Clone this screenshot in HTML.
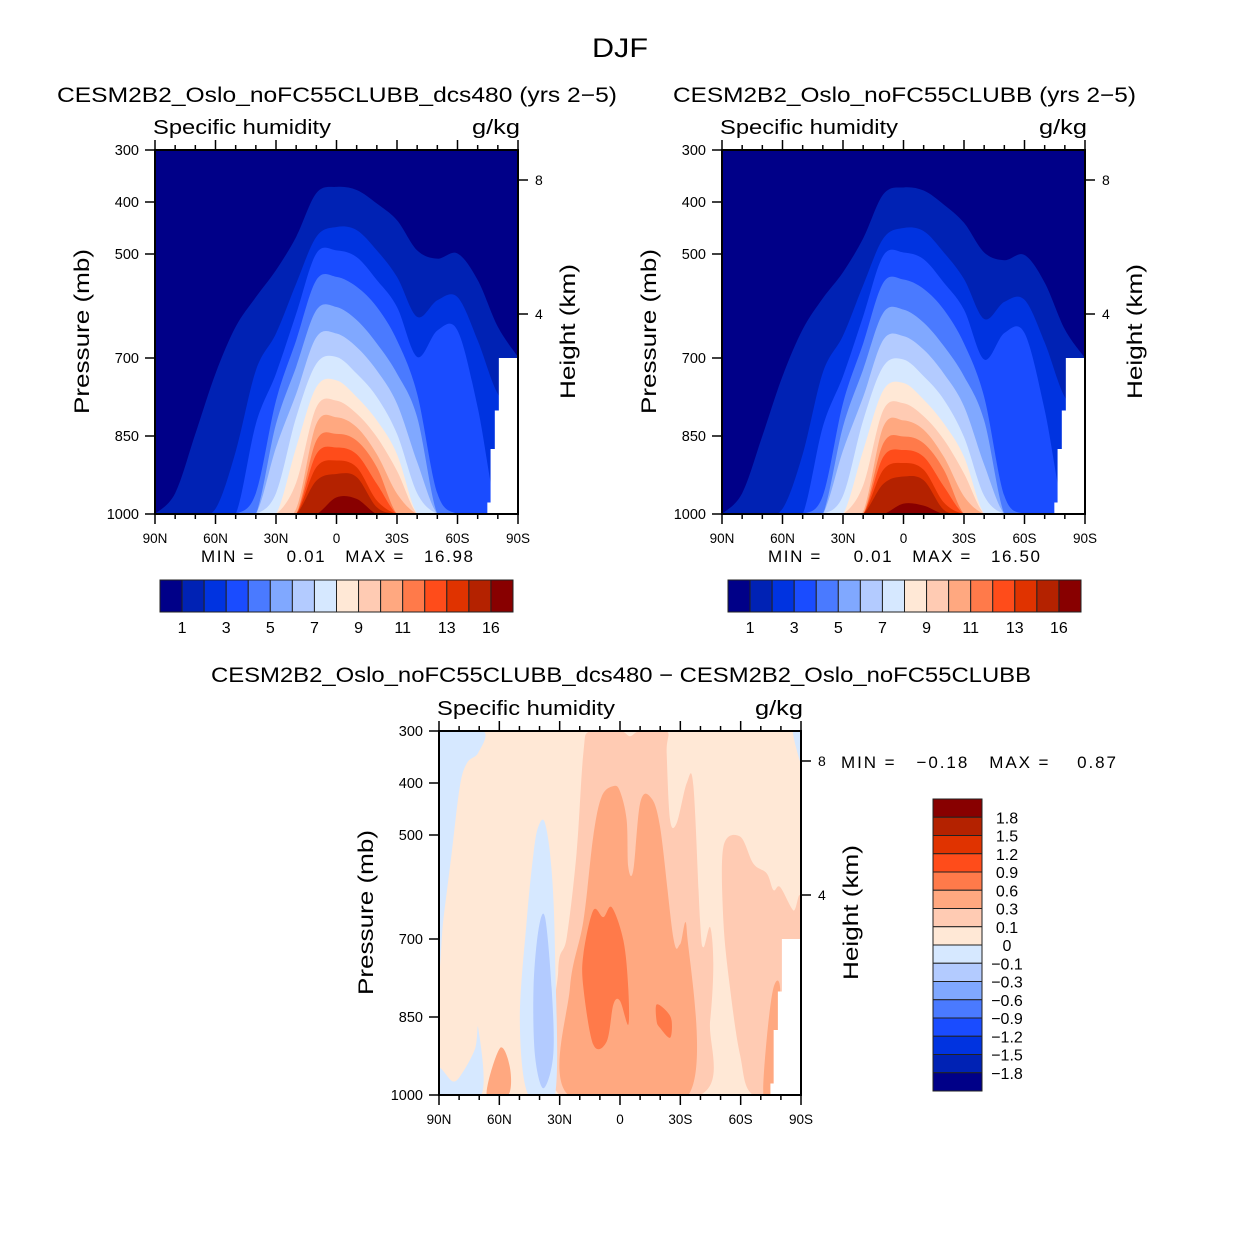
<!DOCTYPE html>
<html><head><meta charset="utf-8"><style>
html,body{margin:0;padding:0;background:#fff;}
svg{display:block;font-family:"Liberation Sans",sans-serif;}
text{white-space:pre;}
</style></head><body>
<svg id="chart" width="1242" height="1244" viewBox="0 0 1242 1244" xmlns="http://www.w3.org/2000/svg">
<rect width="1242" height="1244" fill="#fff"/>
<text x="592" y="57" font-size="27" textLength="56" lengthAdjust="spacingAndGlyphs" fill="#000">DJF</text>
<text x="57" y="102" font-size="21" textLength="560" lengthAdjust="spacingAndGlyphs">CESM2B2_Oslo_noFC55CLUBB_dcs480 (yrs 2−5)</text>
<text x="673" y="102" font-size="21" textLength="463" lengthAdjust="spacingAndGlyphs">CESM2B2_Oslo_noFC55CLUBB (yrs 2−5)</text>
<text x="211" y="682" font-size="21" textLength="820" lengthAdjust="spacingAndGlyphs">CESM2B2_Oslo_noFC55CLUBB_dcs480 − CESM2B2_Oslo_noFC55CLUBB</text>
<g id="layer"></g>
</svg>
<script>
// ---- data ----
const lats = [90,80,70,60,50,40,30,20,10,0,-10,-20,-30,-40,-50,-60,-70,-80,-90];
const colors = ["#000088","#0022b4","#0033e0","#1a4cff","#4a7aff","#80a8ff","#b3cbff","#d6e8ff","#ffe8d6","#ffcbb3","#ffa880","#ff7a4a","#ff4c1a","#e03300","#b42200","#880000"];
const barLabels = ["1","3","5","7","9","11","13","16"];
// top boundary pressure (mb) of each filled level, panel A
const levA1  = [1000,960,846,730,640,583,531,467,383,371,377,403,435,493,509,499,550,640,698];
const levA2  = [1000,1000,1000,990,880,724,653,557,467,448,454,493,544,621,589,583,666,769,800];
const levA3  = [1000,1000,1000,1000,1000,827,730,615,499,493,506,550,602,698,647,647,795,1000,1000];
const levA4  = [1000,1000,1000,1000,1000,960,782,666,550,544,563,602,666,769,960,1000,1000,1000,1000];
const levA5  = [1000,1000,1000,1000,1000,1000,827,717,608,602,627,672,730,814,1000,1000,1000,1000,1000];
const levA6  = [1000,1000,1000,1000,1000,1000,872,769,660,653,679,724,788,900,1000,1000,1000,1000,1000];
const levA7  = [1000,1000,1000,1000,1000,1000,960,814,711,698,730,775,846,960,1000,1000,1000,1000,1000];
const levA8  = [1000,1000,1000,1000,1000,1000,1000,872,756,743,775,820,885,1000,1000,1000,1000,1000,1000];
const levA9  = [1000,1000,1000,1000,1000,1000,1000,940,795,782,807,852,917,1000,1000,1000,1000,1000,1000];
const levA10 = [1000,1000,1000,1000,1000,1000,1000,990,827,814,833,885,961,1000,1000,1000,1000,1000,1000];
const levA11 = [1000,1000,1000,1000,1000,1000,1000,1000,859,846,859,910,1000,1000,1000,1000,1000,1000,1000];
const levA12 = [1000,1000,1000,1000,1000,1000,1000,1000,885,872,885,942,1000,1000,1000,1000,1000,1000,1000];
const levA13 = [1000,1000,1000,1000,1000,1000,1000,1000,910,897,910,974,1000,1000,1000,1000,1000,1000,1000];
const levA14 = [1000,1000,1000,1000,1000,1000,1000,1000,936,923,929,987,1000,1000,1000,1000,1000,1000,1000];
const levA15 = [1000,1000,1000,1000,1000,1000,1000,1000,1000,968,971,1000,1000,1000,1000,1000,1000,1000,1000];
// panel B
const levB1  = [1000,960,850,735,645,585,535,470,385,372,378,405,440,497,512,502,555,645,700];
const levB2  = [1000,1000,1000,990,885,728,657,560,470,450,456,497,548,625,592,588,670,775,805];
const levB3  = [1000,1000,1000,1000,1000,832,735,620,503,497,510,555,607,703,652,652,800,1000,1000];
const levB4  = [1000,1000,1000,1000,1000,965,787,672,555,549,567,607,672,775,965,1000,1000,1000,1000];
const levB5  = [1000,1000,1000,1000,1000,1000,832,722,613,607,632,677,735,820,1000,1000,1000,1000,1000];
const levB6  = [1000,1000,1000,1000,1000,1000,878,775,665,658,684,730,793,905,1000,1000,1000,1000,1000];
const levB7  = [1000,1000,1000,1000,1000,1000,965,820,716,703,735,780,852,965,1000,1000,1000,1000,1000];
const levB8  = [1000,1000,1000,1000,1000,1000,1000,878,762,748,780,826,890,1000,1000,1000,1000,1000,1000];
const levB9  = [1000,1000,1000,1000,1000,1000,1000,945,800,787,812,857,922,1000,1000,1000,1000,1000,1000];
const levB10 = [1000,1000,1000,1000,1000,1000,1000,995,832,820,838,890,966,1000,1000,1000,1000,1000,1000];
const levB11 = [1000,1000,1000,1000,1000,1000,1000,1000,864,851,864,915,1000,1000,1000,1000,1000,1000,1000];
const levB12 = [1000,1000,1000,1000,1000,1000,1000,1000,890,877,890,947,1000,1000,1000,1000,1000,1000,1000];
const levB13 = [1000,1000,1000,1000,1000,1000,1000,1000,915,902,915,978,1000,1000,1000,1000,1000,1000,1000];
const levB14 = [1000,1000,1000,1000,1000,1000,1000,1000,942,928,935,992,1000,1000,1000,1000,1000,1000,1000];
const levB15 = [1000,1000,1000,1000,1000,1000,1000,1000,1000,980,984,1000,1000,1000,1000,1000,1000,1000,1000];
// missing-data mask (lat, pressure)
const maskLat = [-80.5,-90,-90,-74.8,-74.8,-76.4,-76.4,-78.5,-78.5,-80.5];
const maskP   = [700,700,1000,1000,978,978,875,875,801,801];
// difference regions (lat, pressure polygons)
const dBlue1Lat = [90,68,70.5,76,79.6,83.7,87.9,90];
const dBlue1P   = [300,300,342,361,406,535,665,742];
const dBlue2Lat = [90,83,78,72,70.5,69,90];
const dBlue2P   = [948,974,955,910,871,1000,1000];
const dBlue3Lat = [-86,-90,-90,-88.7];
const dBlue3P   = [300,300,355,348];
const dBlue4Lat = [40.6,37.3,34,32.3,32.3,45.6,49.8,46.4,43];
const dBlue4P   = [484,477,568,729,1000,1000,858,665,535];
const dBlue5Lat = [37.3,34,33.2,38.1,42.3,43,40.6];
const dBlue5P   = [658,794,923,987,923,794,684];
const dPink1Lat = [14.9,0,-5,-10,-23.2,-23.2,-24.9,-28.2,-33.2,-36.5,-39.8,-41.5,-44.8,-46.4,-44.8,-39.8,29.9,30.7,26.5,21.6,18.2];
const dPink1P   = [300,300,310,300,300,342,471,477,400,406,665,716,677,748,858,1000,1000,761,697,535,342];
const dPink2Lat = [-51.4,-59.7,-66.3,-73,-76.3,-79.6,-86.2,-90,-90,-66.3,-59.7,-54.7,-51.4];
const dPink2P   = [523,503,555,574,606,600,645,639,1000,1000,923,794,665];
const dSalm1Lat = [13.3,9.1,3.3,0,-3.3,-4.1,-6.6,-10,-14.9,-19.9,-26.5,-29.9,-33.2,-34,25.7,24.9,18.2];
const dSalm1P   = [503,426,406,416,471,561,568,439,426,484,697,710,684,1000,1000,794,665];
const dSalm2Lat = [66.3,59.7,54.7,55.6];
const dSalm2P   = [1000,910,948,1000];
const dSalm3Lat = [-71.3,-73,-76.3,-79.6,-78.8,-75.5];
const dSalm3P   = [1000,890,794,794,923,1000];
const dOr1Lat = [18.2,13.3,8.3,4.1,-1.7,-4.1,-4.1,0,3.3,6.6,13.3,18.2];
const dOr1P   = [729,645,658,639,703,794,865,819,826,897,903,794];
const dOr2Lat = [-18.2,-23.2,-25.7,-24.9,-19.9,-18.2];
const dOr2P   = [826,839,858,890,871,858];
const diffLabels = ["1.8","1.5","1.2","0.9","0.6","0.3","0.1","0","−0.1","−0.3","−0.6","−0.9","−1.2","−1.5","−1.8"];
const diffColors = ["#880000","#b42200","#e03300","#ff4c1a","#ff7a4a","#ffa880","#ffcbb3","#ffe8d6","#d6e8ff","#b3cbff","#80a8ff","#4a7aff","#1a4cff","#0033e0","#0022b4","#000088"];

// ---- drawing ----
const NS = "http://www.w3.org/2000/svg";
const layer = document.getElementById('layer');
function mk(tag, attrs, parent){ const e=document.createElementNS(NS,tag); for(const k in attrs) e.setAttribute(k,attrs[k]); (parent||layer).appendChild(e); return e; }
function axes(x0,y0,w,h){
  return { x: lat => x0 + (90-lat)/180*w, y: p => y0 + (p-300)/700*h };
}
function smoothPath(pts){
  let d = "M"+pts[0][0]+","+pts[0][1];
  for(let i=0;i<pts.length-1;i++){
    const p0=pts[Math.max(0,i-1)], p1=pts[i], p2=pts[i+1], p3=pts[Math.min(pts.length-1,i+2)];
    const c1=[p1[0]+(p2[0]-p0[0])/6, p1[1]+(p2[1]-p0[1])/6];
    const c2=[p2[0]-(p3[0]-p1[0])/6, p2[1]-(p3[1]-p1[1])/6];
    d+=` C${c1[0]},${c1[1]} ${c2[0]},${c2[1]} ${p2[0]},${p2[1]}`;
  }
  return d;
}
function closedSmooth(pts){
  const n=pts.length; let d="M"+pts[0][0]+","+pts[0][1];
  for(let i=0;i<n;i++){
    const p0=pts[(i-1+n)%n],p1=pts[i],p2=pts[(i+1)%n],p3=pts[(i+2)%n];
    const c1=[p1[0]+(p2[0]-p0[0])/6, p1[1]+(p2[1]-p0[1])/6];
    const c2=[p2[0]-(p3[0]-p1[0])/6, p2[1]-(p3[1]-p1[1])/6];
    d+=` C${c1[0]},${c1[1]} ${c2[0]},${c2[1]} ${p2[0]},${p2[1]}`;
  }
  return d+"Z";
}
let clipId=0;
function frame(x0,y0,w,h,name){
  const ax=axes(x0,y0,w,h);
  const g=mk('g',{});
  
  
  mk('rect',{x:x0,y:y0,width:w,height:h,fill:'none',stroke:'#000','stroke-width':2},g);
  for(let lat=90;lat>=-90;lat-=10){
    const major = lat%30===0, X=ax.x(lat), L=major?10:5;
    mk('line',{x1:X,x2:X,y1:y0+h,y2:y0+h+L,stroke:'#000','stroke-width':1.5},g);
    mk('line',{x1:X,x2:X,y1:y0,y2:y0-L,stroke:'#000','stroke-width':1.5},g);
    if(major){
      const t=mk('text',{x:X,y:y0+h+29,'font-size':13.5,'text-anchor':'middle'},g);
      t.textContent = lat===0?'0':(Math.abs(lat)+(lat>0?'N':'S'));
      
      
    }
  }
  [300,400,500,700,850,1000].forEach(p=>{
    const Y=ax.y(p);
    mk('line',{x1:x0-10,x2:x0,y1:Y,y2:Y,stroke:'#000','stroke-width':1.5},g);
    const t=mk('text',{x:x0-16,y:Y+5,'font-size':14.5,'text-anchor':'end'},g);
    t.textContent=p;
    
    
  });
  [[8,30],[4,164]].forEach(([km,dy])=>{
    const Y=y0+dy;
    mk('line',{x1:x0+w,x2:x0+w+10,y1:Y,y2:Y,stroke:'#000','stroke-width':1.5},g);
    const t=mk('text',{x:x0+w+17,y:Y+5,'font-size':14},g);
    t.textContent=km;
    
    
  });
  const s=mk('text',{x:x0-2,y:y0-16,'font-size':20,textLength:178,lengthAdjust:'spacingAndGlyphs'},g); s.textContent='Specific humidity';
   
  const u=mk('text',{x:x0+w-46,y:y0-16,'font-size':20,textLength:48,lengthAdjust:'spacingAndGlyphs'},g); u.textContent='g/kg';
   
  const yl=mk('text',{x:-82,y:0,'font-size':21,textLength:165,lengthAdjust:'spacingAndGlyphs',transform:`translate(${x0-66},${y0+182}) rotate(-90)`},g);
  yl.textContent='Pressure (mb)';  
  const hl=mk('text',{x:-67,y:0,'font-size':21,textLength:135,lengthAdjust:'spacingAndGlyphs',transform:`translate(${x0+w+57},${y0+182}) rotate(-90)`},g);
  hl.textContent='Height (km)';  
  return ax;
}
function clipFor(x0,y0,w,h){
  const id='c'+(clipId++);
  const cp=mk('clipPath',{id});
  mk('rect',{x:x0,y:y0,width:w,height:h},cp);
  return `url(#${id})`;
}
function contourPanel(x0,y0,w,h,levels,name){
  const ax=axes(x0,y0,w,h);
  const g=mk('g',{'clip-path':clipFor(x0,y0,w,h)});
  
  
  mk('rect',{x:x0,y:y0,width:w,height:h,fill:colors[0]},g);
  levels.forEach((lev,k)=>{
    const pts=lats.map((la,i)=>[ax.x(la),ax.y(lev[i])]);
    const d=smoothPath(pts)+` L${ax.x(-90)},${ax.y(1000)+5} L${ax.x(90)},${ax.y(1000)+5}Z`;
    const p=mk('path',{d,fill:colors[k+1]},g);
    
    
  });
  const m=mk('polygon',{points:maskLat.map((la,i)=>ax.x(la)+','+ax.y(maskP[i])).join(' '),fill:'#fff'},g);
   
  frame(x0,y0,w,h,name);
}
function hbar(x0,y0,w,h,name){
  const g=mk('g',{});
  
  
  const bw=w/colors.length;
  colors.forEach((c,i)=>mk('rect',{x:x0+i*bw,y:y0,width:bw,height:h,fill:c,stroke:'#222','stroke-width':1},g));
  barLabels.forEach((l,i)=>{
    const t=mk('text',{x:x0+(2*i+1)*bw,y:y0+h+21,'font-size':16,'text-anchor':'middle'},g);
    t.textContent=l;
     
  });
}
const levA=[levA1,levA2,levA3,levA4,levA5,levA6,levA7,levA8,levA9,levA10,levA11,levA12,levA13,levA14,levA15];
const levB=[levB1,levB2,levB3,levB4,levB5,levB6,levB7,levB8,levB9,levB10,levB11,levB12,levB13,levB14,levB15];
contourPanel(155,150,363,364,levA,'left-panel');
contourPanel(722,150,363,364,levB,'right-panel');
hbar(160,580,353,32,'left-colorbar');
hbar(728,580,353,32,'right-colorbar');
function minmax(x,y,len,txt,name){ const t=mk('text',{x,y,'font-size':17,textLength:len,lengthAdjust:'spacing'}); t.textContent=txt;   }
minmax(201,562,272,'MIN =     0.01   MAX =   16.98','left-min-max');
minmax(768,562,272,'MIN =     0.01   MAX =   16.50','right-min-max');
minmax(841,768,275,'MIN =   −0.18   MAX =    0.87','diff-min-max');

// difference panel
(function(){
  const x0=439,y0=731,w=362,h=364, ax=axes(x0,y0,w,h);
  const g=mk('g',{'clip-path':clipFor(x0,y0,w,h)});
  
  
  mk('rect',{x:x0,y:y0,width:w,height:h,fill:'#ffe8d6'},g);
  const regs=[
    [dPink1Lat,dPink1P,'#ffcbb3','diff-region-pos-0.1'],
    [dPink2Lat,dPink2P,'#ffcbb3','diff-region-pos-0.1-south'],
    [dSalm1Lat,dSalm1P,'#ffa880','diff-region-pos-0.3'],
    [dSalm2Lat,dSalm2P,'#ffa880','diff-region-pos-0.3-north'],
    [dSalm3Lat,dSalm3P,'#ffa880','diff-region-pos-0.3-south'],
    [dOr1Lat,dOr1P,'#ff7a4a','diff-region-pos-0.6'],
    [dOr2Lat,dOr2P,'#ff7a4a','diff-region-pos-0.6-small'],
    [dBlue1Lat,dBlue1P,'#d6e8ff','diff-region-neg-arctic'],
    [dBlue2Lat,dBlue2P,'#d6e8ff','diff-region-neg-arctic-surface'],
    [dBlue3Lat,dBlue3P,'#d6e8ff','diff-region-neg-antarctic'],
    [dBlue4Lat,dBlue4P,'#d6e8ff','diff-region-neg-midlat'],
    [dBlue5Lat,dBlue5P,'#b3cbff','diff-region-neg-0.1']
  ];
  regs.forEach(([la,pp,c,n])=>{
    const pts=la.map((v,i)=>[ax.x(v),ax.y(pp[i])]);
    const p=mk('path',{d:closedSmooth(pts),fill:c},g);
    
    
  });
  const m=mk('polygon',{points:maskLat.map((la,i)=>ax.x(la)+','+ax.y(maskP[i])).join(' '),fill:'#fff'},g);
   
  frame(x0,y0,w,h,'diff-panel');
  // vertical colorbar
  const vb=mk('g',{});
  
  
  const bx=933,by=799,bw=49,bh=292/diffColors.length;
  diffColors.forEach((c,i)=>mk('rect',{x:bx,y:by+i*bh,width:bw,height:bh,fill:c,stroke:'#222','stroke-width':1},vb));
  diffLabels.forEach((l,i)=>{
    const t=mk('text',{x:1007,y:by+(i+1)*bh+6,'font-size':16,'text-anchor':'middle'},vb);
    t.textContent=l;
     
  });
})();
</script>
</body></html>
